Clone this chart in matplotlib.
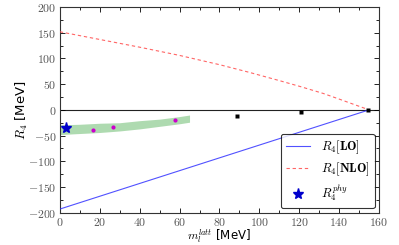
import numpy as np
import matplotlib.pyplot as plt
from matplotlib.ticker import MultipleLocator, FuncFormatter

plt.rcParams['mathtext.fontset'] = 'cm'

# LO and NLO curves
m_lo = [0, 155]
r_lo = [-193, 0]
m_nlo = [0, 20, 40, 60, 80, 95, 110, 120, 132, 140, 155]
r_nlo = [152, 137, 122, 106, 88, 73, 57, 46, 32, 21, 0]

# green band
m_band = [0, 10, 20, 30, 40, 50, 60, 65]
band_lo = [-48, -46, -44, -41, -37, -32, -27, -24]
band_hi = [-29, -28, -26, -25, -21, -18, -13, -10]

# lattice points
m_mag = [16.7, 26.4, 57.8]
r_mag = [-40, -33.5, -19]
m_blk = [88.6, 121, 154.6]
r_blk = [-12, -5, 0]
m_phy = [3.0]
r_phy = [-35.5]

fig = plt.figure(figsize=(3.99, 2.45), dpi=100)
ax = fig.add_axes([0.150, 0.132, 0.800, 0.839])

ax.axhline(0, color='#222222', lw=0.8, zorder=1)
ax.fill_between(m_band, band_lo, band_hi, color='#4caf50', alpha=0.45, lw=0, zorder=2)
ax.plot(m_lo, r_lo, color='#3333ff', lw=0.8, alpha=0.85, label=r'$R_4[\mathbf{LO}]$', zorder=3)
ax.plot(m_nlo, r_nlo, color='#ff5555', lw=0.8, ls='--', dashes=(3, 2.5), alpha=0.9,
        label=r'$R_4[\mathbf{NLO}]$', zorder=3)
ax.plot(m_mag, r_mag, 'o', color='#cc00cc', ms=3, mec='none', zorder=4)
ax.plot(m_blk, r_blk, 's', color='black', ms=3, mec='none', zorder=4)
ax.plot(m_phy, r_phy, '*', color='#0000cc', ms=8, mec='#0000cc', ls='none',
        label=r'$R_4^{phy}$', zorder=5)

ax.set_xlim(0, 160)
ax.set_ylim(-200, 200)
ax.xaxis.set_major_locator(MultipleLocator(20))
ax.xaxis.set_minor_locator(MultipleLocator(10))
ax.yaxis.set_major_locator(MultipleLocator(50))
ax.yaxis.set_minor_locator(MultipleLocator(25))
fmt = FuncFormatter(lambda v, p: r'$%d$' % v)
ax.xaxis.set_major_formatter(fmt)
ax.yaxis.set_major_formatter(fmt)
ax.tick_params(which='both', direction='in', top=True, right=True, labelsize=8.5,
               labelcolor='#555555', width=0.6, pad=2.5)
ax.tick_params(which='major', length=3.5)
ax.tick_params(which='minor', length=2)
for s in ax.spines.values():
    s.set_linewidth(0.8)
    s.set_color('#333333')

ax.set_xlabel(r'$m_l^{latt}$ [MeV]', fontsize=8.5)
ax.set_ylabel(r'$R_4$ [MeV]', fontsize=9.5)
ax.xaxis.set_label_coords(0.5, -0.072)
ax.yaxis.set_label_coords(-0.092, 0.5)

leg = ax.legend(loc='lower right', fontsize=9, frameon=True, fancybox=True,
                borderaxespad=0.35, handlelength=1.9, labelspacing=0.35,
                borderpad=0.4, handletextpad=0.9)
leg.get_frame().set_edgecolor('black')
leg.get_frame().set_linewidth(0.8)

fig.savefig('out.png', dpi=100)
